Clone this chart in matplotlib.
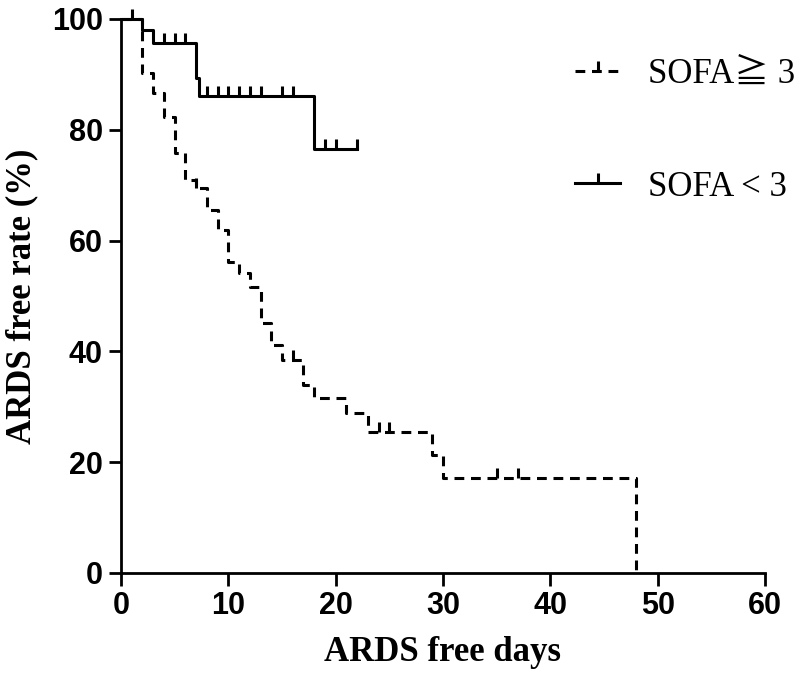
import numpy as np
import matplotlib
matplotlib.use("Agg")
import matplotlib.pyplot as plt

# Kaplan-Meier steps (day, % still ARDS free)
high_days = [0, 2, 3, 4, 5, 6, 7, 8, 9, 10, 11, 12, 13, 14, 15, 17, 18, 21, 23, 29, 30, 48]
high_rate = [100, 90.3, 86.6, 82.4, 75.8, 70.9, 69.5, 65.6, 62.0, 56.2, 54.1, 51.7, 45.2, 41.1,
             38.5, 34.0, 31.6, 28.8, 25.5, 21.3, 17.1, 0]
high_censor = [7, 16, 24, 25, 35, 37]

low_days = [0, 2, 3, 7, 7.3, 18, 22]
low_rate = [100, 98.0, 95.7, 89.4, 86.1, 76.5, 76.5]
low_censor = [1, 4, 5, 6, 8, 9, 10, 11, 12, 13, 15, 16, 19, 20, 22]

labels = ["SOFA\u2267 3", "SOFA < 3"]
xticks = [0, 10, 20, 30, 40, 50, 60]
yticks = [0, 20, 40, 60, 80, 100]


def level_at(days, rate, t):
    idx = np.searchsorted(days, t, side="right") - 1
    return np.asarray(rate)[idx]


fig = plt.figure(figsize=(8, 6.81), dpi=100)
ax = fig.add_axes([121 / 800, 108 / 681, 644 / 800, 554 / 681])

lw = 2.2
ax.step(high_days, high_rate, where="post", color="black", lw=lw,
        dashes=(3.2, 2.2), clip_on=False)
ax.plot(high_censor, level_at(high_days, high_rate, high_censor), linestyle="none",
        marker=2, markersize=7, markeredgewidth=lw, color="black", clip_on=False)

ax.step(low_days, low_rate, where="post", color="black", lw=lw, clip_on=False)
ax.plot(low_censor, level_at(low_days, low_rate, low_censor), linestyle="none",
        marker=2, markersize=7, markeredgewidth=lw, color="black", clip_on=False)

# legend handles with the censor tick in the middle
leg1, = ax.plot([], [], color="black", lw=lw, dashes=(3.2, 2.2), marker=2,
                markersize=7, markeredgewidth=lw, markevery=[1])
leg2, = ax.plot([], [], color="black", lw=lw, marker=2, markersize=7,
                markeredgewidth=lw, markevery=[1])

ax.set_xlim(0, 60)
ax.set_ylim(0, 100)
ax.set_xticks(xticks)
ax.set_yticks(yticks)

for s in ["top", "right"]:
    ax.spines[s].set_visible(False)
for s in ["left", "bottom"]:
    ax.spines[s].set_linewidth(2)

ax.tick_params(direction="out", length=9, width=2, pad=4)
for lab in ax.get_xticklabels() + ax.get_yticklabels():
    lab.set_fontfamily("Liberation Sans")
    lab.set_fontweight("bold")
    lab.set_fontsize(22)

ax.set_xlabel("ARDS free days", fontfamily="Liberation Serif", fontweight="bold",
              fontsize=25, labelpad=11)
ax.set_ylabel("ARDS free rate (%)", fontfamily="Liberation Serif", fontweight="bold",
              fontsize=25, labelpad=10)

leg = ax.legend([leg1, leg2], labels, loc="upper left", bbox_to_anchor=(0.705, 0.93),
                frameon=False, handlelength=1.3, handletextpad=0.8, labelspacing=2.3,
                borderaxespad=0, borderpad=0,
                prop={"family": ["Liberation Serif", "Noto Sans CJK JP", "DejaVu Sans"],
                      "size": 25})

fig.savefig("out.png", dpi=100)
